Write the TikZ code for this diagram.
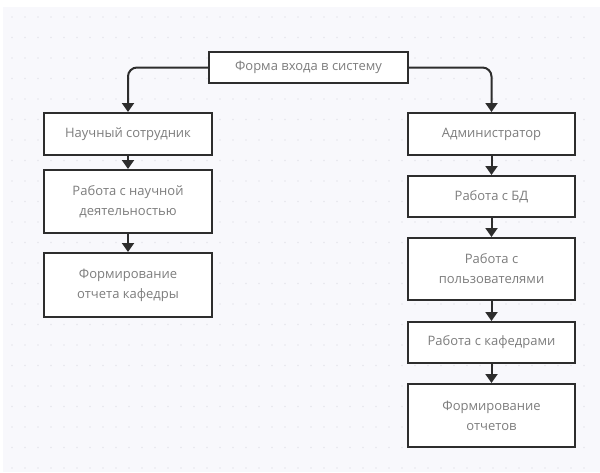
\documentclass[tikz,border=0pt]{standalone}
\usepackage{fontspec}
\setmainfont{Open Sans}
\usetikzlibrary{arrows.meta}
\definecolor{bgc}{RGB}{248,248,252}
\definecolor{dotc}{RGB}{230,230,237}
\definecolor{linec}{RGB}{45,45,45}
\definecolor{txtc}{RGB}{125,125,125}
\begin{document}
\begin{tikzpicture}[x=1pt,y=-1pt,
  box/.style={draw=linec, line width=2pt, fill=white, text=txtc,
    font=\fontsize{13}{20}\selectfont, align=center, inner sep=2pt},
  conn/.style={draw=linec, line width=2pt, rounded corners=9pt,
    -{Triangle[length=9pt,width=12pt]}}]
\useasboundingbox (0,0) rectangle (600,472);
\fill[bgc] (3,7) rectangle (600,472);
\foreach \i in {0,...,44} \foreach \j in {0,...,22}
  \fill[dotc] (12+13*\i,17+20.5*\j) circle (0.8pt);
% top node
\node[box, minimum width=199pt, minimum height=31pt] (top) at (308.5,67.5) {Форма входа в систему};
% left column
\node[box, minimum width=168pt, minimum height=42pt] (n1) at (128,134) {Научный сотрудник};
\node[box, minimum width=168pt, minimum height=63pt] (n2) at (128,201.5) {Работа с научной\\деятельностью};
\node[box, minimum width=168pt, minimum height=64pt] (n3) at (128,285) {Формирование\\отчета кафедры};
% right column
\node[box, minimum width=167pt, minimum height=42pt] (a1) at (491.5,134) {Администратор};
\node[box, minimum width=167pt, minimum height=41pt] (a2) at (491.5,196.5) {Работа с БД};
\node[box, minimum width=167pt, minimum height=62pt] (a3) at (491.5,269) {Работа с\\пользователями};
\node[box, minimum width=167pt, minimum height=41pt] (a4) at (491.5,342.5) {Работа с кафедрами};
\node[box, minimum width=167pt, minimum height=63pt] (a5) at (491.5,415.5) {Формирование\\отчетов};
% connectors
\draw[conn] (top.west) -| (n1.north);
\draw[conn] (top.east) -| (a1.north);
\draw[conn] (n1) -- (n2);
\draw[conn] (n2) -- (n3);
\draw[conn] (a1) -- (a2);
\draw[conn] (a2) -- (a3);
\draw[conn] (a3) -- (a4);
\draw[conn] (a4) -- (a5);
\end{tikzpicture}
\end{document}
